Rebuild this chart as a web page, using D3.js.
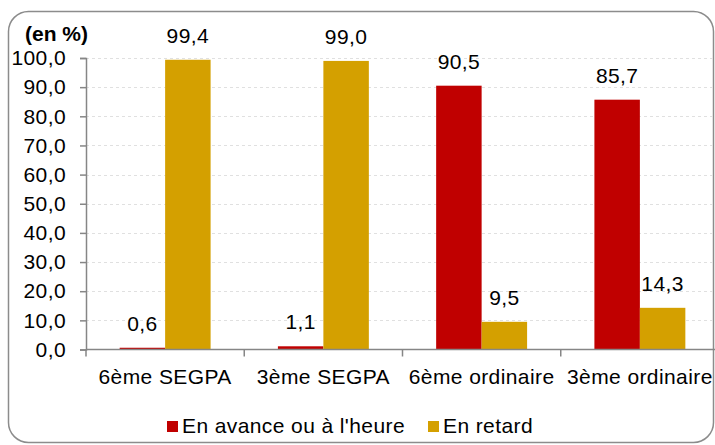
<!DOCTYPE html>
<html>
<head>
<meta charset="utf-8">
<script src="https://cdn.jsdelivr.net/npm/d3@7"></script>
<style>
  body { margin: 0; background: #fff; }
  svg { display: block; font-family: "Liberation Sans", Arial, sans-serif; }
  text { letter-spacing: 0.4px; }
</style>
</head>
<body>
<div id="chart"></div>
<script>
// data
var categories = ["6ème SEGPA", "3ème SEGPA", "6ème ordinaire", "3ème ordinaire"];
var seriesNames = ["En avance ou à l'heure", "En retard"];
var enAvance = [0.6, 1.1, 90.5, 85.7];
var enRetard = [99.4, 99.0, 9.5, 14.3];
var yTicks = [0, 10, 20, 30, 40, 50, 60, 70, 80, 90, 100];
var colors = ["#C00000", "#D4A000"];

var width = 715, height = 445;
var plot = {left: 86, right: 719, top: 58, bottom: 349.5};

var fr = d3.formatLocale({decimal: ",", thousands: " ", grouping: [3], currency: ["", "€"]});
var fmt = fr.format(".1f");

var svg = d3.select("#chart").append("svg")
    .attr("width", width)
    .attr("height", height);

// frame
svg.append("rect")
    .attr("x", 8.5).attr("y", 11.5)
    .attr("width", 705).attr("height", 431)
    .attr("rx", 20).attr("ry", 20)
    .attr("fill", "#fff")
    .attr("stroke", "#8c8c8c")
    .attr("stroke-width", 1.5);

var x = d3.scaleBand().domain(categories).range([plot.left, plot.right]);
var xSub = d3.scaleBand().domain([0, 1]).range([0, x.bandwidth()]).paddingOuter(0.74);
var y = d3.scaleLinear().domain([0, 100]).range([plot.bottom, plot.top]);

// grid
svg.append("g")
  .selectAll("line")
  .data(yTicks.slice(1))
  .enter().append("line")
    .attr("x1", plot.left).attr("x2", plot.right)
    .attr("y1", function(d) { return Math.round(y(d)) + 0.5; })
    .attr("y2", function(d) { return Math.round(y(d)) + 0.5; })
    .attr("stroke", "#e0e0e0")
    .attr("stroke-dasharray", "3,3");

// bars
var rows = categories.map(function(c, i) { return {cat: c, vals: [enAvance[i], enRetard[i]]}; });
var groups = svg.append("g").selectAll("g")
  .data(rows)
  .enter().append("g")
    .attr("transform", function(d) { return "translate(" + x(d.cat) + ",0)"; });

groups.selectAll("rect")
  .data(function(d) { return d.vals; })
  .enter().append("rect")
    .attr("x", function(d, i) { return xSub(i); })
    .attr("width", xSub.bandwidth())
    .attr("y", function(d) { return y(d); })
    .attr("height", function(d) { return y(0) - y(d); })
    .attr("fill", function(d, i) { return colors[i]; });

groups.selectAll("text")
  .data(function(d) { return d.vals; })
  .enter().append("text")
    .attr("x", function(d, i) { return xSub(i) + xSub.bandwidth() / 2; })
    .attr("y", function(d) { return y(d) - 17; })
    .attr("text-anchor", "middle")
    .attr("font-size", "21px")
    .attr("fill", "#000")
    .text(function(d) { return fmt(d); });

// y axis
var yAxis = svg.append("g")
    .attr("transform", "translate(" + plot.left + ",0)")
    .call(d3.axisLeft(y).tickValues(yTicks).tickSize(6).tickPadding(14).tickFormat(fmt));
yAxis.select(".domain").attr("stroke", "#868686").attr("stroke-width", 1.5);
yAxis.selectAll(".tick line").attr("stroke", "#868686").attr("stroke-width", 1.5);
yAxis.selectAll(".tick text")
    .attr("font-size", "21px")
    .attr("font-family", "Liberation Sans, Arial, sans-serif")
    .attr("fill", "#000");

// x axis
var xAxis = svg.append("g")
    .attr("transform", "translate(0," + plot.bottom + ")");
xAxis.append("line")
    .attr("x1", plot.left).attr("x2", plot.right)
    .attr("stroke", "#868686").attr("stroke-width", 1.5);
xAxis.selectAll(".xt")
  .data(categories)
  .enter().append("line")
    .attr("class", "xt")
    .attr("x1", function(d) { return x(d); })
    .attr("x2", function(d) { return x(d); })
    .attr("y1", 0).attr("y2", 7)
    .attr("stroke", "#868686").attr("stroke-width", 1.5);
xAxis.selectAll("text")
  .data(categories)
  .enter().append("text")
    .attr("x", function(d) { return x(d) + x.bandwidth() / 2; })
    .attr("y", 34)
    .attr("text-anchor", "middle")
    .attr("font-size", "21px")
    .attr("fill", "#000")
    .text(function(d) { return d; });

// unit label
svg.append("text")
    .attr("x", 25).attr("y", 41)
    .attr("font-size", "21px")
    .attr("font-weight", "bold")
    .style("letter-spacing", "0px")
    .text("(en %)");

// legend
var legendX = [167, 428];
var legend = svg.append("g").selectAll("g")
  .data(seriesNames)
  .enter().append("g")
    .attr("transform", function(d, i) { return "translate(" + legendX[i] + ",421)"; });
legend.append("rect")
    .attr("width", 11).attr("height", 11)
    .attr("fill", function(d, i) { return colors[i]; });
legend.append("text")
    .attr("x", 15).attr("y", 12)
    .attr("font-size", "21px")
    .text(function(d) { return d; });
</script>
</body>
</html>
